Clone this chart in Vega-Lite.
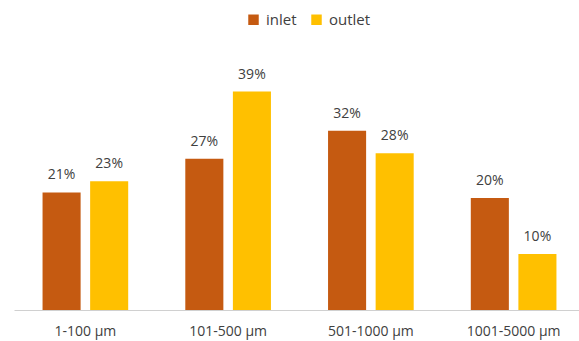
{
  "$schema": "https://vega.github.io/schema/vega-lite/v6.json",
  "width": 571,
  "height": 224,
  "autosize": {"type": "none"},
  "padding": {"left": 14, "top": 86, "right": 0, "bottom": 31},
  "background": "white",
  "config": {
    "view": {"stroke": null},
    "font": "Open Sans"
  },
  "data": {
    "values": [
      {"size": "1-100 µm", "series": "inlet", "share": 0.21},
      {"size": "1-100 µm", "series": "outlet", "share": 0.23},
      {"size": "101-500 µm", "series": "inlet", "share": 0.27},
      {"size": "101-500 µm", "series": "outlet", "share": 0.39},
      {"size": "501-1000 µm", "series": "inlet", "share": 0.32},
      {"size": "501-1000 µm", "series": "outlet", "share": 0.28},
      {"size": "1001-5000 µm", "series": "inlet", "share": 0.20},
      {"size": "1001-5000 µm", "series": "outlet", "share": 0.10}
    ]
  },
  "encoding": {
    "x": {
      "field": "size",
      "type": "nominal",
      "sort": null,
      "scale": {"paddingInner": 0.4, "paddingOuter": 0.2},
      "axis": {
        "title": null,
        "labelAngle": 0,
        "ticks": false,
        "domainColor": "#d0d0d0",
        "domainWidth": 1,
        "labelColor": "#404040",
        "labelFontSize": 14,
        "labelPadding": 14
      }
    },
    "xOffset": {
      "field": "series",
      "type": "nominal",
      "sort": ["inlet", "outlet"],
      "scale": {"paddingInner": 0.2, "paddingOuter": 0}
    },
    "y": {
      "field": "share",
      "type": "quantitative",
      "scale": {"domain": [0, 0.4]},
      "axis": null
    }
  },
  "layer": [
    {
      "mark": {"type": "bar"},
      "encoding": {
        "color": {
          "field": "series",
          "type": "nominal",
          "sort": ["inlet", "outlet"],
          "scale": {"domain": ["inlet", "outlet"], "range": ["#C55A11", "#FFC000"]},
          "legend": {
            "title": null,
            "orient": "none",
            "direction": "horizontal",
            "legendX": 232,
            "legendY": -74,
            "symbolType": "square",
            "symbolSize": 110,
            "symbolStrokeWidth": 0,
            "labelFontSize": 15,
            "labelColor": "#404040",
            "columnPadding": 12,
            "labelOffset": 5
          }
        }
      }
    },
    {
      "mark": {"type": "text", "dy": -17, "fontSize": 14, "color": "#404040"},
      "encoding": {
        "text": {"field": "share", "type": "quantitative", "format": ".0%"},
        "detail": {"field": "series"}
      }
    }
  ]
}
